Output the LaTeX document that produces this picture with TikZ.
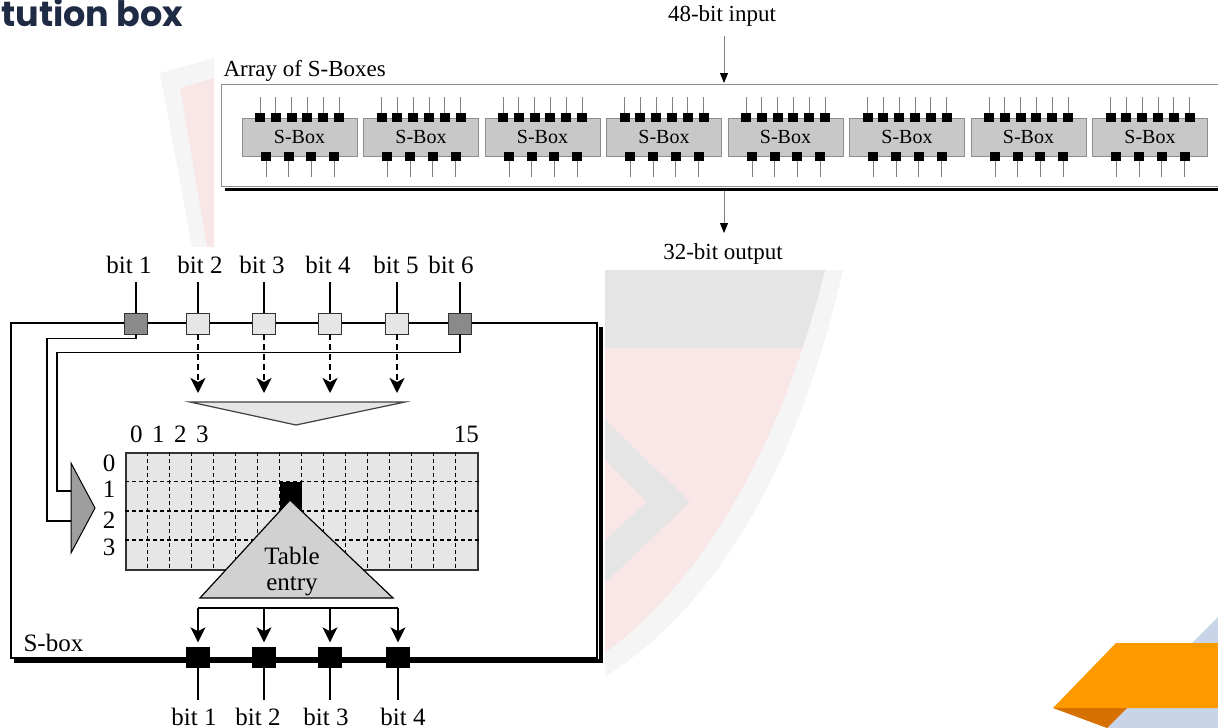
\documentclass[tikz,border=0pt]{standalone}
\usepackage{fontspec}
\setmainfont{Liberation Serif}
\newfontfamily\titlefont{Poppins}
\usetikzlibrary{arrows.meta,calc}
\definecolor{titlecol}{HTML}{1F2B45}
\definecolor{boxgrey}{HTML}{C8C8C8}
\definecolor{tblgrey}{HTML}{E6E6E6}
\definecolor{keygrey}{HTML}{8A8A8A}
\definecolor{wmpink}{HTML}{F9E6E7}
\definecolor{wmgrey}{HTML}{E5E5E5}
\definecolor{wmlight}{HTML}{F5F5F5}
\definecolor{cornorange}{HTML}{FF9900}
\definecolor{corndark}{HTML}{D67000}
\definecolor{cornblue}{HTML}{C8D4E7}

\begin{document}
\begin{tikzpicture}[x=1pt, y=-1pt,
  toplab/.style={font=\fontsize{23}{23}\selectfont},
  lowlab/.style={font=\fontsize{25}{26}\selectfont},
  sbx/.style={draw=black!45, fill=boxgrey, minimum width=115pt, minimum height=38pt,
              inner sep=0pt, font=\fontsize{20}{20}\selectfont},
  pin/.style={fill=black, minimum width=10pt, minimum height=9pt, inner sep=0pt},
  pinln/.style={draw=black!50, line width=0.8pt},
  inarr/.style={pinln, -{Triangle[length=10pt, width=8pt, color=black, fill=black]}},
  inbit/.style={draw=black!80, line width=0.9pt, fill=tblgrey, minimum width=23pt,
                minimum height=21pt, inner sep=0pt},
  keybit/.style={inbit, fill=keygrey},
  outbit/.style={fill=black, minimum width=24pt, minimum height=21pt, inner sep=0pt},
  wire/.style={line width=1.3pt},
  dasharr/.style={line width=2pt, dash pattern=on 6pt off 4pt,
                  -{Stealth[length=15pt, width=15pt, inset=4pt]}},
  outarr/.style={line width=1.5pt, -{Stealth[length=15pt, width=15pt, inset=4pt]}},
  gridln/.style={line width=1.5pt, dash pattern=on 4pt off 3pt}]

\useasboundingbox (0,0) rectangle (1218,728);

% ---- slide background ---------------------------------------------------
\fill[wmlight] (160,73) -- (214,58) -- (214,247) -- (192,247) -- cycle;
\fill[wmpink] (180,88) -- (214,78) -- (214,247) -- (207,247) -- cycle;
\fill[wmlight] (605,270) -- (843,270) .. controls (795,480) and (710,610) .. (605,677) -- cycle;
\begin{scope}
  \clip (605,270) -- (825,270) .. controls (775,470) and (690,590) .. (605,653) -- cycle;
  \fill[wmpink] (605,270) rectangle (850,660);
  \fill[wmgrey] (605,270) rectangle (850,348);
  \fill[wmgrey] (605,420) -- (690,502) -- (605,583) -- (605,540) -- (647,502) -- (605,460) -- cycle;
\end{scope}
\fill[cornblue] (1218,617) -- (1107,728) -- (1218,728) -- cycle;
\fill[cornorange] (1116,643) -- (1218,643) -- (1218,708) -- (1053,708) -- cycle;
\fill[corndark] (1053,708) -- (1127,708) -- (1107,728) -- cycle;

\node[anchor=base west, inner sep=0pt, text=titlecol,
      font=\titlefont\bfseries\fontsize{35}{35}\selectfont] (title) at (1,27) {tution box};

% ---- array of S-boxes ---------------------------------------------------
\node[toplab, anchor=base west] (arrlab) at (220,76) {Array of S-Boxes};
\draw[draw=black!45, line width=0.9pt] (1218,84) -| (221,186) -- (1218,186);
\draw[line width=3.5pt] (225,189.5) -- (1218,189.5);

\foreach \i in {0,...,7}{
  \node[sbx] (sb\i) at ({299.5+121.5*\i},137) {S-Box};
  \foreach \j in {0,...,5}{
    \node[pin] (sb\i-t\j) at ({299.5+121.5*\i+15.8*(\j-2.5)},117.5) {};
    \draw[pinln] (sb\i-t\j.north) -- ++(0,-16);}
  \foreach \j in {0,...,3}{
    \node[pin] (sb\i-b\j) at ({300+121.5*\i+22.7*(\j-1.5)},156) {};
    \draw[pinln] (sb\i-b\j.south) -- ++(0,16);}
}

\node[toplab] (inlab) at (722,16) {48-bit input};
\coordinate (pan-in) at (724,83);
\draw[inarr, shorten <=6pt] (inlab.south -| pan-in) -- (pan-in);
\coordinate (pan-out) at (724,191);
\node[toplab] (outlab) at (723,254) {32-bit output};
\draw[inarr, shorten >=7pt] (pan-out) -- (outlab.north -| pan-out);

% ---- one S-box ----------------------------------------------------------
\draw[wire] (11,323) rectangle (597,658);
\draw[line width=4pt] (14,660.5) -| (600.5,327);
\node[lowlab, anchor=base west] (sboxlab) at (20,651) {S-box};

\foreach \n/\x/\s in {1/136/keybit,2/198/inbit,3/264/inbit,4/330/inbit,5/397/inbit,6/460/keybit}
  \node[\s] (bi\n) at (\x,323.5) {};
\foreach \n/\x in {1/129,2/200,3/262,4/328,5/396,6/451}{
  \node[lowlab, anchor=base] (bl\n) at (\x,273) {bit \n};
  \draw[wire, shorten >=5pt] (bi\n.north) -- (bi\n.north |- bl\n.south);}

% outer bits pick the row
\coordinate (rs-a) at (71,491);
\coordinate (rs-b) at (71,521);
\draw[wire] (bi1.south) -- ++(0,4) -| ($(rs-b)+(-24,0)$) -- (rs-b);
\draw[wire] (bi6.south) -- ++(0,18) -| ($(rs-a)+(-14,0)$) -- (rs-a);
\draw[line width=1pt, fill=black!38] (71,463) -- (95,508) -- (71,553) -- cycle;

% inner bits pick the column
\coordinate (fn-l) at (190,402);
\coordinate (fn-r) at (405,402);
\coordinate (fn-tip) at (296,425);
\draw[line width=1.2pt, draw=black!75, fill=tblgrey] (fn-l) -- (fn-r) -- (fn-tip) -- cycle;
\foreach \n in {2,...,5}
  \draw[dasharr, shorten >=9pt] (bi\n.south) -- (bi\n.south |- fn-l);

% table
\node[draw=black!80, line width=1.2pt, fill=tblgrey, minimum width=352pt,
      minimum height=117pt, inner sep=0pt] (tbl) at (302,511.5) {};
\foreach \c in {1,...,15}
  \draw[gridln] ($(tbl.north west)+(22*\c,0)$) -- ($(tbl.south west)+(22*\c,0)$);
\foreach \r in {1,2,3}
  \draw[gridln] ($(tbl.north west)+(0,29.25*\r)$) -- ($(tbl.north east)+(0,29.25*\r)$);
\node[fill=black, minimum width=22pt, minimum height=29.25pt, inner sep=0pt, anchor=north west]
  (hit) at ($(tbl.north west)+(154,29.25)$) {};
\foreach \c in {0,1,2,3,15}
  \node[lowlab, anchor=base] (col\c) at ($(tbl.north west)+(22*\c+11,-10)$) {\c};
\foreach \r/\yy in {0/463,1/489,2/520,3/547}
  \node[lowlab] (row\r) at (109,\yy) {\r};

% table entry
\coordinate (te-apex) at (290,500);
\coordinate (te-l) at (200,598);
\coordinate (te-r) at (393,598);
\draw[line width=1.2pt, fill=black!18] (te-apex) -- (te-r) -- (te-l) -- cycle;
\node[lowlab, align=center] (te) at (292,572) {Table\\entry};

% output bits
\foreach \n/\x in {1/198,2/264,3/330,4/398}
  \node[outbit] (bo\n) at (\x,657) {};
\coordinate (br) at (0,608);
\draw[wire] (bo1.north |- br) -- (bo4.north |- br);
\foreach \n/\x in {1/194,2/258,3/326,4/403}{
  \draw[outarr, shorten >=4pt] (bo\n.north |- br) -- (bo\n.north);
  \node[lowlab, anchor=base, inner sep=1pt] (ol\n) at (\x,725) {bit \n};
  \draw[wire, shorten >=6pt] (bo\n.south) -- (bo\n.south |- ol\n.north);}

\end{tikzpicture}
\end{document}
